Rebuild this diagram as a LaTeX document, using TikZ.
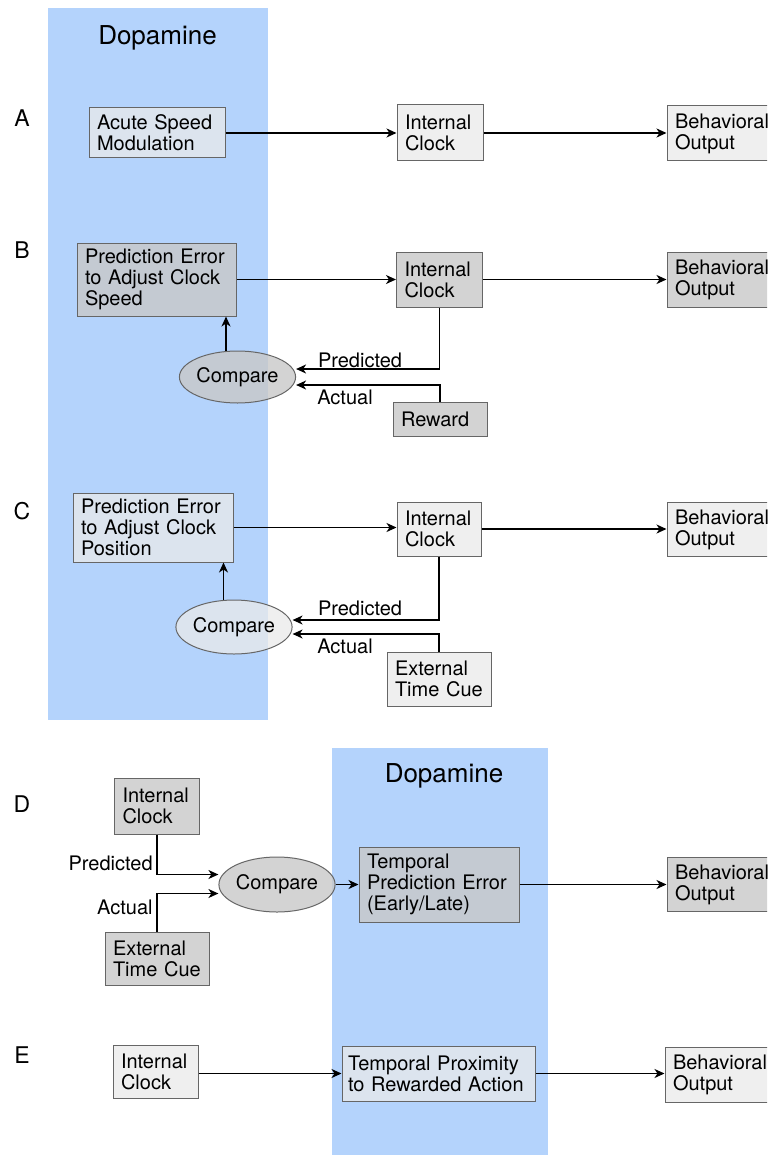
\documentclass[tikz,border=0pt]{standalone}
\usepackage{fontspec}
\setmainfont{TeX Gyre Heros}
\usepackage{tikz}
\usetikzlibrary{arrows.meta,shapes.geometric}
\definecolor{dablue}{RGB}{180,211,252}
\definecolor{boxlight}{RGB}{234,234,234}
\definecolor{boxdark}{RGB}{200,200,200}

\begin{document}
\begin{tikzpicture}[x=0.5pt, y=-0.5pt,
    box/.style={draw=black!60, line width=0.5pt, align=left, inner xsep=4pt, inner ysep=0pt,
        text opacity=1, font=\fontsize{10}{10.5}\selectfont},
    lbox/.style={box, fill=boxlight, fill opacity=0.75},
    dbox/.style={box, fill=boxdark, fill opacity=0.8},
    cmp/.style={ellipse, draw=black!60, line width=0.5pt, inner sep=0pt, text opacity=1,
        font=\fontsize{10}{10.5}\selectfont},
    lcmp/.style={cmp, fill=boxlight, fill opacity=0.75},
    dcmp/.style={cmp, fill=boxdark, fill opacity=0.8},
    lbl/.style={font=\fontsize{10}{10.5}\selectfont, inner sep=0pt},
    panel/.style={font=\fontsize{11.5}{12}\selectfont, inner sep=0pt},
    arr/.style={-{Stealth[length=5pt,width=4.5pt,inset=1.5pt]}, line width=0.75pt}
]
    \useasboundingbox (0,0) rectangle (767,1155);
    \clip (0,0) rectangle (767,1155);

    % Dopamine bands
    \fill[dablue] (48,8) rectangle (268,720);
    \fill[dablue] (332,748) rectangle (548,1155);
    \node[font=\fontsize{13}{14}\selectfont] (daTop) at (157.5,38) {Dopamine};
    \node[font=\fontsize{13}{14}\selectfont] (daBot) at (444,776) {Dopamine};

    % Panel letters
    \node[panel] (pA) at (22,118) {A};
    \node[panel] (pB) at (22,250) {B};
    \node[panel] (pC) at (22,511) {C};
    \node[panel] (pD) at (22,804) {D};
    \node[panel] (pE) at (22,1055) {E};

    % A
    \node[lbox, minimum width=68pt, minimum height=25pt, text width=60pt] (acuteA) at (157,133) {Acute Speed\\Modulation};
    \node[lbox, minimum width=43pt, minimum height=28pt, text width=35pt] (clockA) at (440,133) {Internal\\Clock};
    \node[lbox, minimum width=65pt, minimum height=27.5pt, text width=57pt] (behA) at (732,133.5) {Behavioral\\Output};
    \draw[arr] (acuteA.east) -- (acuteA.east -| clockA.west);
    \draw[arr] (clockA.east) -- (clockA.east -| behA.west);

    % B
    \node[dbox, minimum width=79.5pt, minimum height=36.5pt, text width=71.5pt] (predB) at (156.5,279.5) {Prediction Error\\to Adjust Clock\\Speed};
    \node[dbox, minimum width=43pt, minimum height=27.5pt, text width=35pt] (clockB) at (439.5,279.5) {Internal\\Clock};
    \node[dbox, minimum width=65pt, minimum height=27.5pt, text width=57pt] (behB) at (732,279.5) {Behavioral\\Output};
    \node[dcmp, minimum width=57.5pt, minimum height=26pt] (cmpB) at (237.5,377) {Compare};
    \node[dbox, minimum width=47pt, minimum height=17pt, text width=39pt] (reward) at (440,419) {Reward};
    \draw[arr] (predB.east) -- (predB.east -| clockB.west);
    \draw[arr] (clockB.east) -- (clockB.east -| behB.west);
    \draw[arr] ([xshift=-5.75pt]cmpB.north) -- ([xshift=-5.75pt]cmpB.north |- predB.south);
    \draw[arr] (clockB.south) |- ([yshift=4pt]cmpB.east);
    \draw[arr] (reward.north) |- ([yshift=-4pt]cmpB.east);
    \node[lbl] (predLblB) at (360,360) {Predicted};
    \node[lbl] (actLblB) at (345,397) {Actual};

    % C
    \node[lbox, minimum width=80pt, minimum height=34.5pt, text width=72pt] (predC) at (153,527.5) {Prediction Error\\to Adjust Clock\\Position};
    \node[lbox, minimum width=42pt, minimum height=27pt, text width=34pt] (clockC) at (439,529) {Internal\\Clock};
    \node[lbox, minimum width=65pt, minimum height=27pt, text width=57pt] (behC) at (732,529.5) {Behavioral\\Output};
    \node[lcmp, minimum width=56pt, minimum height=27pt] (cmpC) at (234,627) {Compare};
    \node[lbox, minimum width=52pt, minimum height=27pt, text width=44pt] (cueC) at (439,679) {External\\Time Cue};
    \draw[arr] (predC.east) -- (predC.east -| clockC.west);
    \draw[arr] (clockC.east) -- (clockC.east -| behC.west);
    \draw[arr] ([xshift=-5.25pt]cmpC.north) -- ([xshift=-5.25pt]cmpC.north |- predC.south);
    \draw[arr] (clockC.south) |- ([yshift=3.5pt]cmpC.east);
    \draw[arr] (cueC.north) |- ([yshift=-3.5pt]cmpC.east);
    \node[lbl] (predLblC) at (360,608) {Predicted};
    \node[lbl] (actLblC) at (345,646) {Actual};

    % D
    \node[dbox, minimum width=42.5pt, minimum height=28pt, text width=34.5pt] (clockD) at (157,806) {Internal\\Clock};
    \node[dbox, minimum width=52pt, minimum height=26.5pt, text width=44pt] (cueD) at (157,958.5) {External\\Time Cue};
    \node[dcmp, minimum width=58pt, minimum height=27.5pt] (cmpD) at (277,884.5) {Compare};
    \node[dbox, minimum width=80pt, minimum height=37.5pt, text width=72pt] (tpeD) at (439,884.5) {Temporal\\Prediction Error\\(Early/Late)};
    \node[dbox, minimum width=65pt, minimum height=27pt, text width=57pt] (behD) at (732,884.5) {Behavioral\\Output};
    \draw[arr] (clockD.south) |- ([yshift=5pt]cmpD.west);
    \draw[arr] (cueD.north) |- ([yshift=-4.5pt]cmpD.west);
    \draw[arr] (cmpD.east) -- (cmpD.east -| tpeD.west);
    \draw[arr] (tpeD.east) -- (tpeD.east -| behD.west);
    \node[lbl, anchor=east] (predLblD) at (153,863) {Predicted};
    \node[lbl, anchor=east] (actLblD) at (153,907) {Actual};

    % E
    \node[lbox, minimum width=42.5pt, minimum height=26.5pt, text width=34.5pt] (clockE) at (155.5,1071.5) {Internal\\Clock};
    \node[lbox, minimum width=96.5pt, minimum height=27.5pt, text width=90.5pt, inner xsep=3pt] (proxE) at (438.5,1073.5) {Temporal Proximity\\to Rewarded Action};
    \node[lbox, minimum width=65pt, minimum height=27.5pt, text width=57pt] (behE) at (730,1074.5) {Behavioral\\Output};
    \draw[arr] (clockE.east |- proxE.west) -- (proxE.west);
    \draw[arr] (proxE.east) -- (proxE.east -| behE.west);
\end{tikzpicture}
\end{document}
